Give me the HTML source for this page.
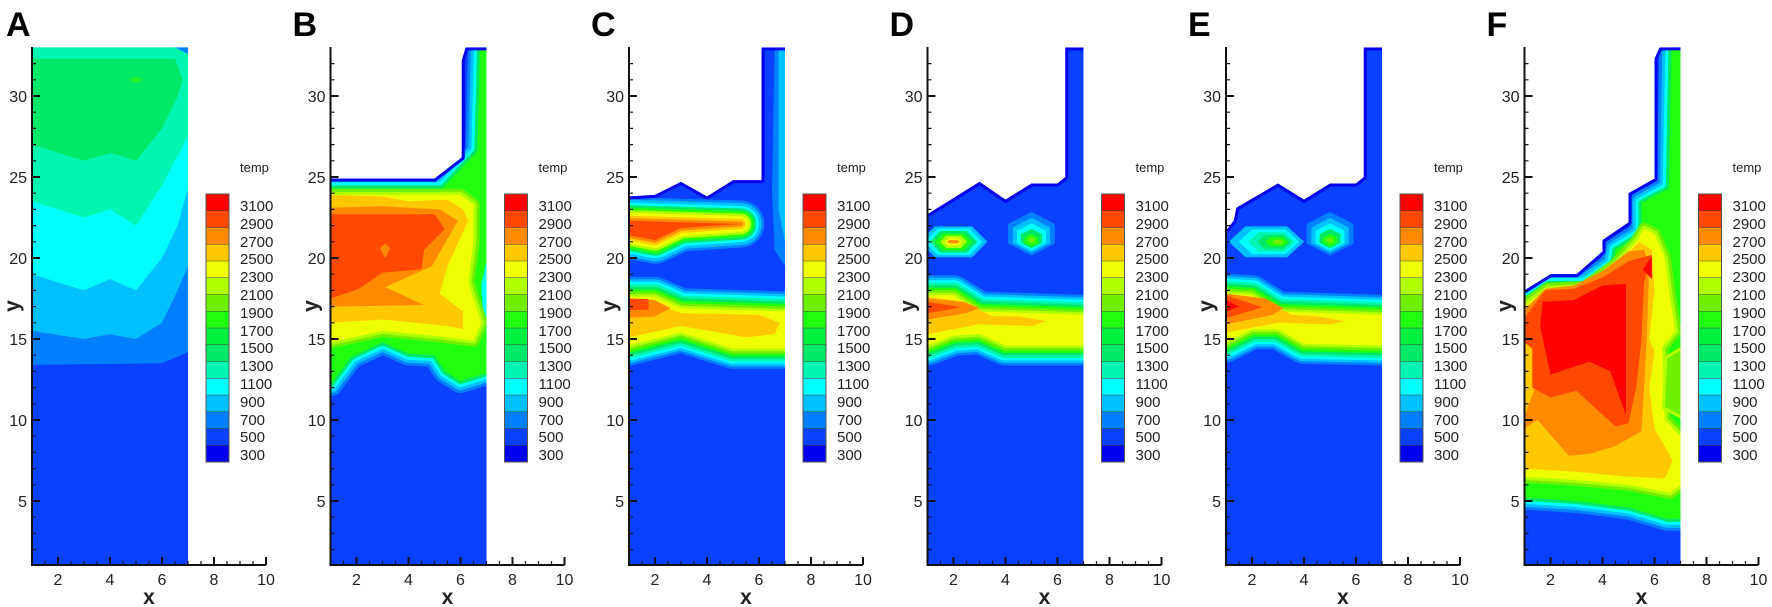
<!DOCTYPE html>
<html><head><meta charset="utf-8"><style>
html,body{margin:0;padding:0;background:#fff;}
svg{display:block;}
.r{vector-effect:non-scaling-stroke;stroke-linejoin:round;}
text{font-family:"Liberation Sans",sans-serif;fill:#222;}
.yl{font-size:16px;text-anchor:end;}
.xl{font-size:16px;text-anchor:middle;}
.ax{font-size:21px;font-weight:bold;text-anchor:middle;}
.pl{font-size:34px;font-weight:bold;fill:#000;}
.lg{font-size:15px;}
.tp{font-size:13px;}
</style></head><body>
<svg width="1772" height="607" viewBox="0 0 1772 607" xmlns="http://www.w3.org/2000/svg">
<defs>
<g id="axes" fill="none" stroke="#111">
<path stroke-width="2" d="M32 47V565H266"/>
<path stroke-width="2" d="M32 501h8M32 420h8M32 339h8M32 258h8M32 177h8M32 96h8M58 565v-8M110 565v-8M162 565v-8M214 565v-8M266 565v-8"/>
<path stroke-width="1.2" d="M32 549.6h4M32 533.4h4M32 517.2h4M32 484.8h4M32 468.6h4M32 452.4h4M32 436.2h4M32 403.8h4M32 387.6h4M32 371.4h4M32 355.2h4M32 322.8h4M32 306.6h4M32 290.4h4M32 274.2h4M32 241.8h4M32 225.6h4M32 209.4h4M32 193.2h4M32 160.8h4M32 144.6h4M32 128.4h4M32 112.2h4M32 79.8h4M32 63.6h4M45 565v-4M71 565v-4M84 565v-4M97 565v-4M123 565v-4M136 565v-4M149 565v-4M175 565v-4M188 565v-4M201 565v-4M227 565v-4M240 565v-4M253 565v-4"/>
</g>
<g id="legend">
<rect x="206" y="194" width="23" height="17" fill="#ff0000"/>
<rect x="206" y="210.75" width="23" height="17" fill="#ff4800"/>
<rect x="206" y="227.5" width="23" height="17" fill="#ff8a00"/>
<rect x="206" y="244.25" width="23" height="17" fill="#ffc800"/>
<rect x="206" y="261" width="23" height="17" fill="#eeff00"/>
<rect x="206" y="277.75" width="23" height="17" fill="#b0ff00"/>
<rect x="206" y="294.5" width="23" height="17" fill="#70f000"/>
<rect x="206" y="311.25" width="23" height="17" fill="#20ff10"/>
<rect x="206" y="328" width="23" height="17" fill="#00f040"/>
<rect x="206" y="344.75" width="23" height="17" fill="#00e868"/>
<rect x="206" y="361.5" width="23" height="17" fill="#00f5b0"/>
<rect x="206" y="378.25" width="23" height="17" fill="#00ffff"/>
<rect x="206" y="395" width="23" height="17" fill="#00c0ff"/>
<rect x="206" y="411.75" width="23" height="17" fill="#0080ff"/>
<rect x="206" y="428.5" width="23" height="17" fill="#0a40ff"/>
<rect x="206" y="445.25" width="23" height="16.75" fill="#0000ee"/>
<path fill="none" stroke="#444" stroke-width="0.6" d="M206 210.75h23M206 227.5h23M206 244.25h23M206 261h23M206 277.75h23M206 294.5h23M206 311.25h23M206 328h23M206 344.75h23M206 361.5h23M206 378.25h23M206 395h23M206 411.75h23M206 428.5h23M206 445.25h23"/>
<rect x="206" y="194" width="23" height="268" fill="none" stroke="#555" stroke-width="1"/>
</g>
<clipPath id="dA" clipPathUnits="userSpaceOnUse"><polygon points="1,1 7,1 7,33 1,33"/></clipPath>
<clipPath id="dB" clipPathUnits="userSpaceOnUse"><polygon points="1,1 7,1 7,33 6.2,33 6.05,32.2 6.05,26.2 5,24.9 1,24.9"/></clipPath>
<clipPath id="dC" clipPathUnits="userSpaceOnUse"><polygon points="1,1 7,1 7,33 6.1,33 6.1,24.8 5,24.8 4,23.8 3,24.7 2,23.9 1,23.8"/></clipPath>
<clipPath id="dD" clipPathUnits="userSpaceOnUse"><polygon points="1,1 7,1 7,33 6.3,33 6.3,25 6,24.6 5,24.6 4,23.6 3,24.7 1,22.7"/></clipPath>
<clipPath id="dE" clipPathUnits="userSpaceOnUse"><polygon points="1,1 7,1 7,33 6.3,33 6.3,25 6,24.6 5,24.6 4,23.6 3,24.6 1.4,23.1 1.3,22.3 1,21.7"/></clipPath>
<clipPath id="dF" clipPathUnits="userSpaceOnUse"><polygon points="1,1 7,1 7,33 6.2,33 6,32.3 6,24.9 5,24 5,22.2 4,21.1 4,20.4 3,19 2,19 1,18"/></clipPath>
<polygon id="EB" class="r" points="1,12.2 1.8,13.9 3,14.8 4,14.1 5,14 5.4,13 6,12.4 7,12.9 7,33 6.75,33 6.65,26.6 5.3,24.3 1,24.3"/>
<polygon id="YB" class="r" points="1,14.8 3,15.5 5,15.2 6.5,14.9 6.8,16 6.3,18.5 6.5,21 6.5,23.3 6,23.9 5.2,23.9 1,23.9"/>
<polygon id="PC" class="r" points="1,22.3 5.3,22.1 3,21.85 2,21.1 1,21.4"/>
<polygon id="LC" class="r" points="1,14.6 3,15.4 5,14.4 7,14.4 7,16.7 3,16.9 2,17.6 1,17.6"/>
<polygon id="LD" class="r" points="1,14.6 2,15.2 3,15.3 4,14.6 7,14.6 7,16.5 3,16.7 2,17.7 1,17.7"/>
<polygon id="LE" class="r" points="1,14.8 2,15.6 3,15.6 4,14.7 7,14.6 7,16.5 3,16.7 2,17.7 1,17.8"/>
<polygon id="EF" class="r" points="1,5.2 3,5.0 5,4.6 6.5,3.9 7,3.9 7,33 6.65,33 6.55,24.3 5.5,23.4 5.5,21.5 4.5,20.5 4.4,19.6 3.3,18.4 1.9,18.4 1,17.4"/>
<polygon id="YF" class="r" points="1,6.5 3,6.3 5,6.0 6.6,5.5 7,6 7,9 6.4,10 6.3,14.5 6.8,15.5 6.6,17.5 6.4,20 6,21.5 5.6,21.8 5.3,21 4.5,19.6 3.3,18.2 1.9,18.1 1,17.1"/>
<polygon id="GPF" class="r" points="6.4,10.8 7,10.3 7,14.3 6.5,13.8"/>
<polygon id="h1" points="5,22.85 5.9,22.11 5.9,20.89 5,20.15 4.1,20.89 4.1,22.11"/>
<polygon id="h2" points="5,22.48 5.72,21.886 5.72,20.914 5,20.32 4.28,20.914 4.28,21.886"/>
<polygon id="h3" points="5,22.137 5.558,21.677 5.558,20.923 5,20.463 4.442,20.923 4.442,21.677"/>
<polygon id="h4" points="5,21.8 5.405,21.47 5.405,20.93 5,20.6 4.595,20.93 4.595,21.47"/>
<polygon id="h5" points="5,21.5 5.27,21.28 5.27,20.92 5,20.7 4.73,20.92 4.73,21.28"/>
<polygon id="h6" points="5,21.3 5.135,21.19 5.135,21.01 5,20.9 4.865,21.01 4.865,21.19"/>
</defs>

<g transform="matrix(26,0,0,-16.2,6,582)">
<g clip-path="url(#dA)">
<rect x="1" y="1" width="6" height="32" fill="#0a40ff"/>
<polygon fill="#0080ff" points="1,13.4 6,13.5 7,14.2 7,33 1,33"/>
<polygon fill="#00c0ff" points="1,15.5 3,15 4,15.3 5,15 6,16 6.6,18 7,19.5 7,33 1,33"/>
<polygon fill="#00ffff" points="1,19 3,18 4,18.7 5,18 6,20 6.6,22 7,24.3 7,33 1,33"/>
<polygon fill="#00f5b0" points="1,23.5 3,22.5 4,23 5,22 6,24.5 7,27.5 7,33 1,33"/>
<polygon fill="#00e868" points="1,27 3,26 4,26.5 5,26 6,28 6.6,30 6.8,31 6.5,32.3 1,32.3"/>
<polygon fill="#20ee30" points="4.7,31 5,31.2 5.3,31 5,30.8"/>
<polygon fill="#0080ff" points="6.5,33 7,33 7,32.6"/>
</g></g>

<g transform="matrix(26,0,0,-16.2,304.5,582)">
<g clip-path="url(#dB)">
<rect x="1" y="1" width="6" height="32" fill="#0a40ff"/>
<use href="#EB" fill="#0080ff" stroke="#0080ff" stroke-width="24"/>
<use href="#EB" fill="#00c0ff" stroke="#00c0ff" stroke-width="18"/>
<use href="#EB" fill="#00ffff" stroke="#00ffff" stroke-width="12"/>
<use href="#EB" fill="#00e868" stroke="#00e868" stroke-width="6"/>
<use href="#EB" fill="#20ff10"/>
<polygon fill="#00ffff" points="6.85,17 7,16.3 7,19.8 6.8,18.3"/>
<use href="#YB" fill="#70f000" stroke="#70f000" stroke-width="12"/>
<use href="#YB" fill="#b0ff00" stroke="#b0ff00" stroke-width="6"/>
<use href="#YB" fill="#eeff00"/>
<polygon fill="#ffc800" points="1,16 3,16.2 5.5,15.8 6.1,15.6 6.1,16.7 5.2,17.8 5.5,19.5 6.3,22.3 6.1,23 5.5,23.6 4,23.5 3,23.8 1,23.9"/>
<polygon fill="#ff8a00" points="1,17 4.6,17.1 3.1,18.2 4.9,19.5 5.9,22.3 5.2,23 4,23.1 3,23.2 1,23.1"/>
<polygon fill="#ff4800" points="1,17.5 2.1,18.1 3,19.1 4.5,19.3 4.6,20.5 5.4,21.8 5,22.7 1,22.7"/>
<polygon fill="#ff8a00" points="2.9,20.6 3.1,20 3.3,20.6 3.1,20.9"/>
<polyline fill="none" stroke="#0000ee" stroke-width="6" class="r" points="1,24.9 5,24.9 6.05,26.2 6.05,32.2 6.2,33 7,33"/>
</g></g>

<g transform="matrix(26,0,0,-16.2,603,582)">
<g clip-path="url(#dC)">
<rect x="1" y="1" width="6" height="32" fill="#0a40ff"/>
<polygon fill="#0080ff" points="6.6,33 7,33 7,19.5 6.6,20.5 6.5,24"/>
<polygon fill="#00c0ff" points="6.75,33 7,33 7,21 6.75,23"/>
<use href="#PC" fill="#0080ff" stroke="#0080ff" stroke-width="47"/>
<use href="#PC" fill="#00c0ff" stroke="#00c0ff" stroke-width="42"/>
<use href="#PC" fill="#00ffff" stroke="#00ffff" stroke-width="36"/>
<use href="#PC" fill="#00e868" stroke="#00e868" stroke-width="31"/>
<use href="#PC" fill="#20ff10" stroke="#20ff10" stroke-width="26"/>
<use href="#PC" fill="#b0ff00" stroke="#b0ff00" stroke-width="21"/>
<use href="#PC" fill="#eeff00" stroke="#eeff00" stroke-width="16"/>
<use href="#PC" fill="#ffc800" stroke="#ffc800" stroke-width="10"/>
<use href="#PC" fill="#ff8a00" stroke="#ff8a00" stroke-width="5"/>
<use href="#PC" fill="#ff4800"/>
<use href="#LC" fill="#0080ff" stroke="#0080ff" stroke-width="40"/>
<use href="#LC" fill="#00c0ff" stroke="#00c0ff" stroke-width="35"/>
<use href="#LC" fill="#00ffff" stroke="#00ffff" stroke-width="30"/>
<use href="#LC" fill="#00f5b0" stroke="#00f5b0" stroke-width="25"/>
<use href="#LC" fill="#00e868" stroke="#00e868" stroke-width="20"/>
<use href="#LC" fill="#20ff10" stroke="#20ff10" stroke-width="15"/>
<use href="#LC" fill="#70f000" stroke="#70f000" stroke-width="10"/>
<use href="#LC" fill="#b0ff00" stroke="#b0ff00" stroke-width="5"/>
<use href="#LC" fill="#eeff00"/>
<polygon fill="#ffc800" points="1,15.1 3,15.8 5.5,15.1 6.6,15.3 6.8,16 6,16.5 3,16.6 2,17.2 1,17.4"/>
<polygon fill="#ff8a00" points="1,16.3 2,16.4 2.6,16.9 2,17.4 1,17.5"/>
<polygon fill="#ff4800" points="1,16.8 1.75,16.8 1.75,17.45 1,17.5"/>
<polyline fill="none" stroke="#0000ee" stroke-width="6" class="r" points="1,23.8 2,23.9 3,24.7 4,23.8 5,24.8 6.1,24.8 6.1,33 7,33"/>
</g></g>

<g transform="matrix(26,0,0,-16.2,901.5,582)">
<g clip-path="url(#dD)">
<rect x="1" y="1" width="6" height="32" fill="#0a40ff"/>
<polygon fill="#00c0ff" points="0.7,21 1.285,21.95 2.715,21.95 3.3,21 2.715,20.05 1.285,20.05"/>
<polygon fill="#00ffff" points="0.895,21 1.392,21.81 2.608,21.81 3.105,21 2.608,20.19 1.392,20.19"/>
<polygon fill="#00e868" points="1.09,21 1.5,21.665 2.5,21.665 2.91,21 2.5,20.335 1.5,20.335"/>
<polygon fill="#20ff10" points="1.285,21 1.607,21.52 2.393,21.52 2.715,21 2.393,20.48 1.607,20.48"/>
<polygon fill="#b0ff00" points="1.48,21 1.714,21.38 2.286,21.38 2.52,21 2.286,20.62 1.714,20.62"/>
<polygon fill="#eeff00" points="1.675,21 1.82,21.24 2.18,21.24 2.325,21 2.18,20.76 1.82,20.76"/>
<polygon fill="#ff8a00" points="1.74,21 1.86,21.1 2.14,21.1 2.26,21 2.14,20.9 1.86,20.9"/>
<use href="#h1" fill="#0080ff"/>
<use href="#h2" fill="#00c0ff"/>
<use href="#h3" fill="#00ffff"/>
<use href="#h4" fill="#00e868"/>
<use href="#h5" fill="#20ff10"/>
<use href="#h6" fill="#70f000"/>
<use href="#LD" fill="#0080ff" stroke="#0080ff" stroke-width="40"/>
<use href="#LD" fill="#00c0ff" stroke="#00c0ff" stroke-width="35"/>
<use href="#LD" fill="#00ffff" stroke="#00ffff" stroke-width="30"/>
<use href="#LD" fill="#00f5b0" stroke="#00f5b0" stroke-width="25"/>
<use href="#LD" fill="#00e868" stroke="#00e868" stroke-width="20"/>
<use href="#LD" fill="#20ff10" stroke="#20ff10" stroke-width="15"/>
<use href="#LD" fill="#70f000" stroke="#70f000" stroke-width="10"/>
<use href="#LD" fill="#b0ff00" stroke="#b0ff00" stroke-width="5"/>
<use href="#LD" fill="#eeff00"/>
<polygon fill="#ffc800" points="1,15.3 3,15.9 5,15.8 5.6,16.1 4.5,16.4 3.5,16.4 3,16.8 2.4,17.3 1,17.6"/>
<polygon fill="#ff8a00" points="1,16.2 2.5,16.6 3,16.9 2.4,17.3 1,17.5"/>
<polygon fill="#ff4800" points="1,16.6 2.3,16.95 1,17.3"/>
<polyline fill="none" stroke="#0000ee" stroke-width="6" class="r" points="1,22.7 3,24.7 4,23.6 5,24.6 6,24.6 6.3,25 6.3,33 7,33"/>
</g></g>

<g transform="matrix(26,0,0,-16.2,1200,582)">
<g clip-path="url(#dE)">
<rect x="1" y="1" width="6" height="32" fill="#0a40ff"/>
<polygon fill="#00c0ff" points="1.1,21 1.75,21.95 3.35,21.95 4.0,21 3.35,20.05 1.75,20.05"/>
<polygon fill="#00ffff" points="1.49,21 2.01,21.76 3.29,21.76 3.81,21 3.29,20.24 2.01,20.24"/>
<polygon fill="#00f5b0" points="1.85,21 2.255,21.59 3.245,21.59 3.65,21 3.245,20.41 2.255,20.41"/>
<polygon fill="#00e868" points="2.2,21 2.49,21.43 3.21,21.43 3.5,21 3.21,20.57 2.49,20.57"/>
<polygon fill="#20ff10" points="2.51,21 2.71,21.28 3.19,21.28 3.39,21 3.19,20.72 2.71,20.72"/>
<polygon fill="#70f000" points="2.78,21 2.88,21.14 3.12,21.14 3.22,21 3.12,20.86 2.88,20.86"/>
<use href="#h1" fill="#0080ff"/>
<use href="#h2" fill="#00c0ff"/>
<use href="#h3" fill="#00ffff"/>
<use href="#h4" fill="#00e868"/>
<use href="#h5" fill="#20ff10"/>
<use href="#h6" fill="#70f000"/>
<use href="#LE" fill="#0080ff" stroke="#0080ff" stroke-width="40"/>
<use href="#LE" fill="#00c0ff" stroke="#00c0ff" stroke-width="35"/>
<use href="#LE" fill="#00ffff" stroke="#00ffff" stroke-width="30"/>
<use href="#LE" fill="#00f5b0" stroke="#00f5b0" stroke-width="25"/>
<use href="#LE" fill="#00e868" stroke="#00e868" stroke-width="20"/>
<use href="#LE" fill="#20ff10" stroke="#20ff10" stroke-width="15"/>
<use href="#LE" fill="#70f000" stroke="#70f000" stroke-width="10"/>
<use href="#LE" fill="#b0ff00" stroke="#b0ff00" stroke-width="5"/>
<use href="#LE" fill="#eeff00"/>
<polygon fill="#ffc800" points="1,15.4 3,16.0 5,15.9 5.6,16.1 4.5,16.4 3.5,16.5 3,17 2.4,17.4 1,17.7"/>
<polygon fill="#ff8a00" points="1,15.9 2.8,16.5 3.2,16.9 2.5,17.5 1,17.8"/>
<polygon fill="#ff4800" points="1,16.3 2.4,16.95 1,17.7"/>
<polygon fill="#ff0000" points="1,16.7 1.5,17 1,17.4"/>
<polyline fill="none" stroke="#0000ee" stroke-width="6" class="r" points="1,21.7 1.3,22.3 1.4,23.1 3,24.6 4,23.6 5,24.6 6,24.6 6.3,25 6.3,33 7,33"/>
</g></g>

<g transform="matrix(26,0,0,-16.2,1498.5,582)">
<g clip-path="url(#dF)">
<rect x="1" y="1" width="6" height="32" fill="#0a40ff"/>
<use href="#EF" fill="#0080ff" stroke="#0080ff" stroke-width="24"/>
<use href="#EF" fill="#00c0ff" stroke="#00c0ff" stroke-width="18"/>
<use href="#EF" fill="#00ffff" stroke="#00ffff" stroke-width="12"/>
<use href="#EF" fill="#00e868" stroke="#00e868" stroke-width="6"/>
<use href="#EF" fill="#20ff10"/>
<use href="#YF" fill="#70f000" stroke="#70f000" stroke-width="12"/>
<use href="#YF" fill="#b0ff00" stroke="#b0ff00" stroke-width="6"/>
<use href="#YF" fill="#eeff00"/>
<use href="#GPF" fill="#b0ff00" stroke="#b0ff00" stroke-width="6"/>
<use href="#GPF" fill="#70f000"/>
<polygon fill="#ffc800" points="1,7 3,6.8 5,6.5 6.4,6.4 6.7,7.5 6,9.5 5.8,12 6,14.2 5.8,15 6,18 5.9,20.5 5.4,21 4.5,19.5 3.2,18.1 1.9,18 1,16.9"/>
<polygon fill="#ff8a00" points="1,9.5 1.5,10 2.7,7.8 3.5,7.9 4.5,8.4 5.5,9.3 5.6,12 5.7,15 5.8,19.5 5.6,20.5 5,20.4 4,19.2 2.9,18.3 1.8,18.1 1,16.8"/>
<polygon fill="#ffc800" points="1,10.2 1.4,12 1.35,14.3 1,15"/>
<polygon fill="#ff4800" points="1,14.8 1.3,14.4 1.3,12 2,11.4 3,11.8 4.5,9.6 5,9.8 5.3,12 5.5,15 5.6,18.5 5.9,20.2 5,19.8 4,18.8 2.9,18.1 1.8,18.0 1,16.3"/>
<polygon fill="#ff0000" points="1.7,17.3 2.9,17.4 4,18.3 4.9,18.4 4.9,10.3 4.3,13.0 3.5,13.6 2,12.8 1.6,15.8"/>
<polygon fill="#ff0000" points="5.55,19.3 5.9,20.1 5.9,18.7"/>
<polyline fill="none" stroke="#0000ee" stroke-width="6" class="r" points="1,18 2,19 3,19 4,20.4 4,21.1 5,22.2 5,24 6,24.9 6,32.3 6.2,33 7,33"/>
</g></g>

<use href="#axes"/>
<use href="#axes" x="298.5"/>
<use href="#axes" x="597"/>
<use href="#axes" x="895.5"/>
<use href="#axes" x="1194"/>
<use href="#axes" x="1492.5"/>
<use href="#legend"/>
<use href="#legend" x="298.5"/>
<use href="#legend" x="597"/>
<use href="#legend" x="895.5"/>
<use href="#legend" x="1194"/>
<use href="#legend" x="1492.5"/>

<g>
<text class="pl" x="6" y="36">A</text>
<text class="yl" x="27" y="507">5</text><text class="yl" x="27" y="426">10</text><text class="yl" x="27" y="345">15</text><text class="yl" x="27" y="264">20</text><text class="yl" x="27" y="183">25</text><text class="yl" x="27" y="102">30</text>
<text class="xl" x="58" y="585">2</text><text class="xl" x="110" y="585">4</text><text class="xl" x="162" y="585">6</text><text class="xl" x="214" y="585">8</text><text class="xl" x="266" y="585">10</text>
<text class="ax" x="149" y="604">x</text>
<text class="ax" transform="translate(19,306) rotate(-90)">y</text>
<text class="tp" x="240" y="172">temp</text>
<text class="lg" x="240" y="211">3100</text><text class="lg" x="240" y="229">2900</text><text class="lg" x="240" y="247">2700</text><text class="lg" x="240" y="264">2500</text><text class="lg" x="240" y="282">2300</text><text class="lg" x="240" y="300">2100</text><text class="lg" x="240" y="318">1900</text><text class="lg" x="240" y="336">1700</text><text class="lg" x="240" y="353">1500</text><text class="lg" x="240" y="371">1300</text><text class="lg" x="240" y="389">1100</text><text class="lg" x="240" y="407">900</text><text class="lg" x="240" y="425">700</text><text class="lg" x="240" y="442">500</text><text class="lg" x="240" y="460">300</text>
</g>
<g transform="translate(298.5,0)">
<text class="pl" x="-6" y="36">B</text>
<text class="yl" x="27" y="507">5</text><text class="yl" x="27" y="426">10</text><text class="yl" x="27" y="345">15</text><text class="yl" x="27" y="264">20</text><text class="yl" x="27" y="183">25</text><text class="yl" x="27" y="102">30</text>
<text class="xl" x="58" y="585">2</text><text class="xl" x="110" y="585">4</text><text class="xl" x="162" y="585">6</text><text class="xl" x="214" y="585">8</text><text class="xl" x="266" y="585">10</text>
<text class="ax" x="149" y="604">x</text>
<text class="ax" transform="translate(19,306) rotate(-90)">y</text>
<text class="tp" x="240" y="172">temp</text>
<text class="lg" x="240" y="211">3100</text><text class="lg" x="240" y="229">2900</text><text class="lg" x="240" y="247">2700</text><text class="lg" x="240" y="264">2500</text><text class="lg" x="240" y="282">2300</text><text class="lg" x="240" y="300">2100</text><text class="lg" x="240" y="318">1900</text><text class="lg" x="240" y="336">1700</text><text class="lg" x="240" y="353">1500</text><text class="lg" x="240" y="371">1300</text><text class="lg" x="240" y="389">1100</text><text class="lg" x="240" y="407">900</text><text class="lg" x="240" y="425">700</text><text class="lg" x="240" y="442">500</text><text class="lg" x="240" y="460">300</text>
</g>
<g transform="translate(597,0)">
<text class="pl" x="-6" y="36">C</text>
<text class="yl" x="27" y="507">5</text><text class="yl" x="27" y="426">10</text><text class="yl" x="27" y="345">15</text><text class="yl" x="27" y="264">20</text><text class="yl" x="27" y="183">25</text><text class="yl" x="27" y="102">30</text>
<text class="xl" x="58" y="585">2</text><text class="xl" x="110" y="585">4</text><text class="xl" x="162" y="585">6</text><text class="xl" x="214" y="585">8</text><text class="xl" x="266" y="585">10</text>
<text class="ax" x="149" y="604">x</text>
<text class="ax" transform="translate(19,306) rotate(-90)">y</text>
<text class="tp" x="240" y="172">temp</text>
<text class="lg" x="240" y="211">3100</text><text class="lg" x="240" y="229">2900</text><text class="lg" x="240" y="247">2700</text><text class="lg" x="240" y="264">2500</text><text class="lg" x="240" y="282">2300</text><text class="lg" x="240" y="300">2100</text><text class="lg" x="240" y="318">1900</text><text class="lg" x="240" y="336">1700</text><text class="lg" x="240" y="353">1500</text><text class="lg" x="240" y="371">1300</text><text class="lg" x="240" y="389">1100</text><text class="lg" x="240" y="407">900</text><text class="lg" x="240" y="425">700</text><text class="lg" x="240" y="442">500</text><text class="lg" x="240" y="460">300</text>
</g>
<g transform="translate(895.5,0)">
<text class="pl" x="-6" y="36">D</text>
<text class="yl" x="27" y="507">5</text><text class="yl" x="27" y="426">10</text><text class="yl" x="27" y="345">15</text><text class="yl" x="27" y="264">20</text><text class="yl" x="27" y="183">25</text><text class="yl" x="27" y="102">30</text>
<text class="xl" x="58" y="585">2</text><text class="xl" x="110" y="585">4</text><text class="xl" x="162" y="585">6</text><text class="xl" x="214" y="585">8</text><text class="xl" x="266" y="585">10</text>
<text class="ax" x="149" y="604">x</text>
<text class="ax" transform="translate(19,306) rotate(-90)">y</text>
<text class="tp" x="240" y="172">temp</text>
<text class="lg" x="240" y="211">3100</text><text class="lg" x="240" y="229">2900</text><text class="lg" x="240" y="247">2700</text><text class="lg" x="240" y="264">2500</text><text class="lg" x="240" y="282">2300</text><text class="lg" x="240" y="300">2100</text><text class="lg" x="240" y="318">1900</text><text class="lg" x="240" y="336">1700</text><text class="lg" x="240" y="353">1500</text><text class="lg" x="240" y="371">1300</text><text class="lg" x="240" y="389">1100</text><text class="lg" x="240" y="407">900</text><text class="lg" x="240" y="425">700</text><text class="lg" x="240" y="442">500</text><text class="lg" x="240" y="460">300</text>
</g>
<g transform="translate(1194,0)">
<text class="pl" x="-6" y="36">E</text>
<text class="yl" x="27" y="507">5</text><text class="yl" x="27" y="426">10</text><text class="yl" x="27" y="345">15</text><text class="yl" x="27" y="264">20</text><text class="yl" x="27" y="183">25</text><text class="yl" x="27" y="102">30</text>
<text class="xl" x="58" y="585">2</text><text class="xl" x="110" y="585">4</text><text class="xl" x="162" y="585">6</text><text class="xl" x="214" y="585">8</text><text class="xl" x="266" y="585">10</text>
<text class="ax" x="149" y="604">x</text>
<text class="ax" transform="translate(19,306) rotate(-90)">y</text>
<text class="tp" x="240" y="172">temp</text>
<text class="lg" x="240" y="211">3100</text><text class="lg" x="240" y="229">2900</text><text class="lg" x="240" y="247">2700</text><text class="lg" x="240" y="264">2500</text><text class="lg" x="240" y="282">2300</text><text class="lg" x="240" y="300">2100</text><text class="lg" x="240" y="318">1900</text><text class="lg" x="240" y="336">1700</text><text class="lg" x="240" y="353">1500</text><text class="lg" x="240" y="371">1300</text><text class="lg" x="240" y="389">1100</text><text class="lg" x="240" y="407">900</text><text class="lg" x="240" y="425">700</text><text class="lg" x="240" y="442">500</text><text class="lg" x="240" y="460">300</text>
</g>
<g transform="translate(1492.5,0)">
<text class="pl" x="-6" y="36">F</text>
<text class="yl" x="27" y="507">5</text><text class="yl" x="27" y="426">10</text><text class="yl" x="27" y="345">15</text><text class="yl" x="27" y="264">20</text><text class="yl" x="27" y="183">25</text><text class="yl" x="27" y="102">30</text>
<text class="xl" x="58" y="585">2</text><text class="xl" x="110" y="585">4</text><text class="xl" x="162" y="585">6</text><text class="xl" x="214" y="585">8</text><text class="xl" x="266" y="585">10</text>
<text class="ax" x="149" y="604">x</text>
<text class="ax" transform="translate(19,306) rotate(-90)">y</text>
<text class="tp" x="240" y="172">temp</text>
<text class="lg" x="240" y="211">3100</text><text class="lg" x="240" y="229">2900</text><text class="lg" x="240" y="247">2700</text><text class="lg" x="240" y="264">2500</text><text class="lg" x="240" y="282">2300</text><text class="lg" x="240" y="300">2100</text><text class="lg" x="240" y="318">1900</text><text class="lg" x="240" y="336">1700</text><text class="lg" x="240" y="353">1500</text><text class="lg" x="240" y="371">1300</text><text class="lg" x="240" y="389">1100</text><text class="lg" x="240" y="407">900</text><text class="lg" x="240" y="425">700</text><text class="lg" x="240" y="442">500</text><text class="lg" x="240" y="460">300</text>
</g>
</svg>
</body></html>
